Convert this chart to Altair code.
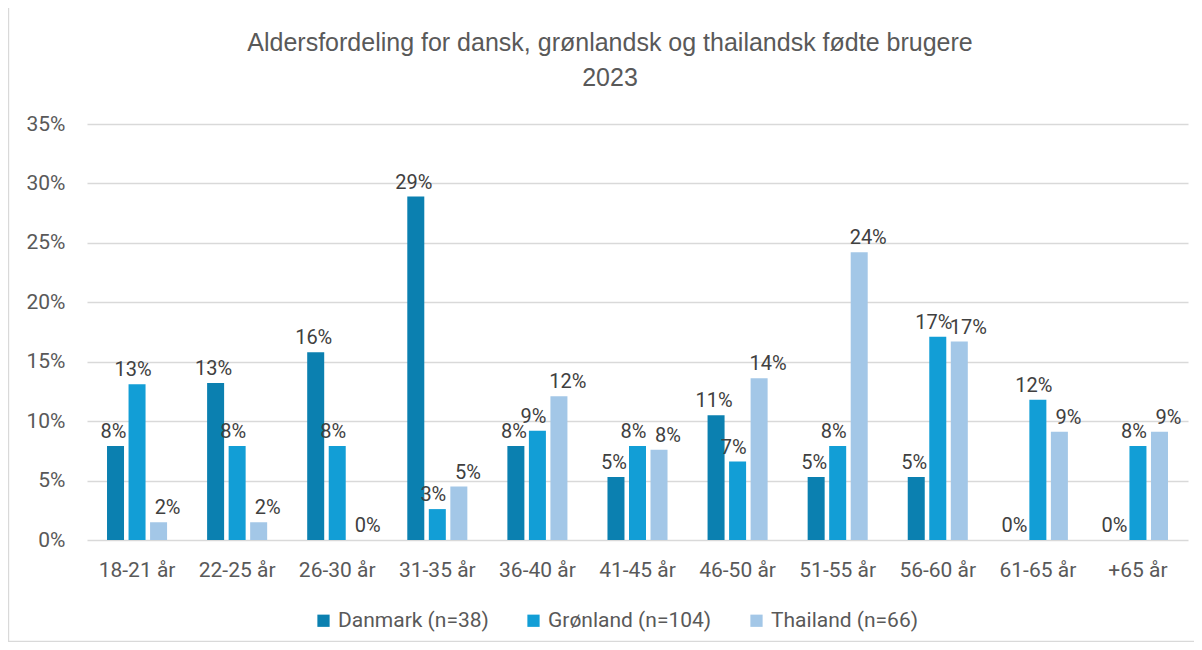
import altair as alt
import pandas as pd

title_lines = ["Aldersfordeling for dansk, grønlandsk og thailandsk fødte brugere", "2023"]
categories = ["18-21 år", "22-25 år", "26-30 år", "31-35 år", "36-40 år", "41-45 år",
              "46-50 år", "51-55 år", "56-60 år", "61-65 år", "+65 år"]
series = ["Danmark (n=38)", "Grønland (n=104)", "Thailand (n=66)"]
danmark = [0.079, 0.132, 0.158, 0.289, 0.079, 0.053, 0.105, 0.053, 0.053, 0.0, 0.0]
gronland = [0.131, 0.079, 0.079, 0.026, 0.092, 0.079, 0.066, 0.079, 0.171, 0.118, 0.079]
thailand = [0.015, 0.015, 0.0, 0.045, 0.121, 0.076, 0.136, 0.242, 0.167, 0.091, 0.091]
colors = ["#0B80B0", "#129ED6", "#A3C7E7"]

rows = []
for s, vals in zip(series, [danmark, gronland, thailand]):
    for c, v in zip(categories, vals):
        rows.append({"Alder": c, "Land": s, "Andel": v})
df = pd.DataFrame(rows)

FONT = "Roboto"
TITLE_FONT = "Liberation Sans Narrow, Arial Narrow, Liberation Sans"
W, H = 1101, 416

x = alt.X("Alder:N", sort=categories, title=None,
          scale=alt.Scale(paddingInner=0.4, paddingOuter=0.2),
          axis=alt.Axis(labelAngle=0, labelFontSize=21, labelColor="#595959",
                        labelFont=FONT, ticks=False, domain=False, labelPadding=19))
xoff = alt.XOffset("Land:N", sort=series, scale=alt.Scale(paddingInner=0.21))
y = alt.Y("Andel:Q", title=None,
          scale=alt.Scale(domain=[0, 0.35], nice=False),
          axis=alt.Axis(format=".0%", values=[0, 0.05, 0.10, 0.15, 0.20, 0.25, 0.30, 0.35],
                        labelFontSize=21, labelColor="#595959", labelFont=FONT,
                        ticks=False, domain=False, labelPadding=22,
                        gridColor="#D9D9D9", gridWidth=1.5))
color = alt.Color("Land:N", sort=series,
                  scale=alt.Scale(domain=series, range=colors),
                  legend=alt.Legend(title=None, orient="none", direction="horizontal",
                                    legendX=226, legendY=486, symbolType="square",
                                    symbolSize=150, symbolStrokeWidth=0,
                                    labelFontSize=21, labelColor="#595959", labelLimit=400,
                                    labelFont=FONT, columnPadding=34, labelOffset=4))

bars = alt.Chart(df).mark_bar().encode(x=x, xOffset=xoff, y=y, color=color)

def label_layer(name, dx):
    return alt.Chart(df).transform_filter(alt.datum.Land == name).mark_text(
        baseline="alphabetic", dy=-8, dx=dx, fontSize=20, color="#404040", font=FONT
    ).encode(x=x, xOffset=xoff, y=y, text=alt.Text("Andel:Q", format=".0%"))

labels = [label_layer(series[0], -2), label_layer(series[1], -4), label_layer(series[2], 9)]

border = alt.Chart(pd.DataFrame({"k": [0]})).mark_rect(
    fill=None, stroke="#D9D9D9", strokeWidth=1.2).encode(
    x=alt.value(-78.4), x2=alt.value(W + 40), y=alt.value(-140), y2=alt.value(H + 101.4))

title1 = alt.Chart(pd.DataFrame({"t": [title_lines[0]]})).mark_text(
    fontSize=25, font=TITLE_FONT, color="#595959", align="center", baseline="alphabetic").encode(
    x=alt.value(523), y=alt.value(-73), text="t:N")
title2 = alt.Chart(pd.DataFrame({"t": [title_lines[1]]})).mark_text(
    fontSize=25, font=TITLE_FONT, color="#595959", align="center", baseline="alphabetic").encode(
    x=alt.value(523), y=alt.value(-38), text="t:N")

chart = alt.layer(border, bars, *labels, title1, title2).properties(
    width=W, height=H,
    autosize=alt.AutoSizeParams(type="none"),
    padding={"left": 79, "top": 116, "right": 6, "bottom": 102},
).configure_view(stroke=None)

chart.save("out.html", embed_options={"renderer": "svg", "actions": False})
